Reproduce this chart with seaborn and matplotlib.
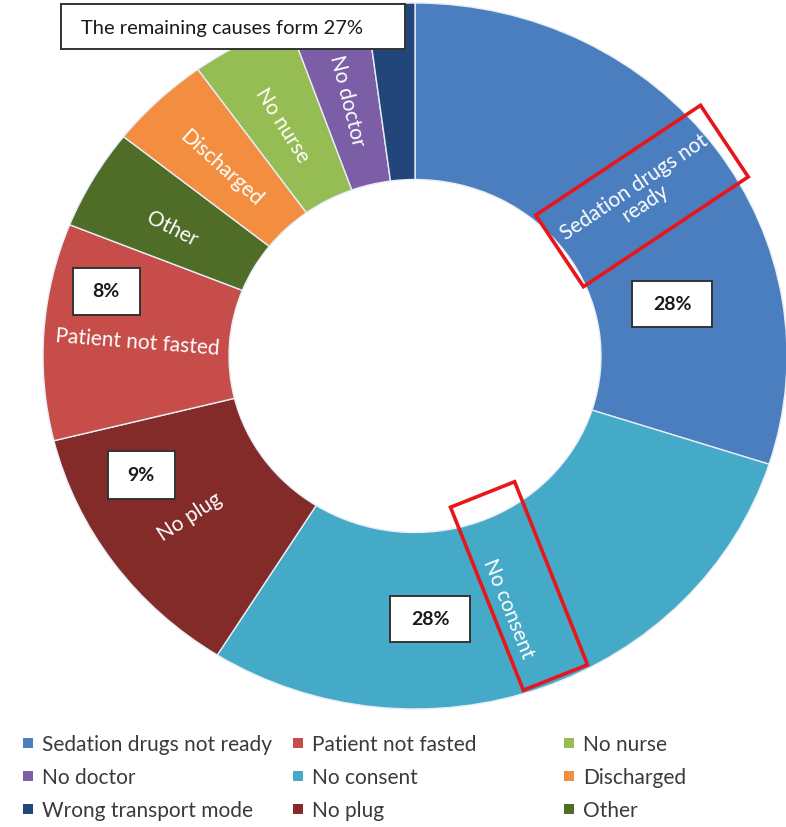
import matplotlib
matplotlib.use("Agg")
import matplotlib.pyplot as plt
import seaborn as sns
from matplotlib.patches import Rectangle
from matplotlib.lines import Line2D

# ---- data (clockwise from 12 o'clock) ----
categories = ["Sedation drugs not ready", "No consent", "No plug", "Patient not fasted",
              "Other", "Discharged", "No nurse", "No doctor", "Wrong transport mode"]
values = [29.9, 28.9, 12.2, 9.9, 4.6, 4.4, 4.4, 3.4, 2.1]
colors = ["#4a7ebf", "#45a9c8", "#822b29", "#c64d49", "#4f6d27",
          "#f38e41", "#96bd54", "#7b5ea5", "#22467a"]
pct_labels = ["28%", "28%", "9%", "8%"]
note_text = "The remaining causes form 27%"
legend_columns = [["Sedation drugs not ready", "No doctor", "Wrong transport mode"],
                  ["Patient not fasted", "No consent", "No plug"],
                  ["No nurse", "Discharged", "Other"]]

sns.set_theme(style="white")
plt.rcParams["font.family"] = ["Lato", "DejaVu Sans"]

W, H = 786, 828
fig = plt.figure(figsize=(W / 100, H / 100), dpi=100)

# donut axes (slightly elliptical, as in the reference)
cx, cy, rx, ry = 415, 357, 372, 353
ax = fig.add_axes([(cx - rx) / W, 1 - (cy + ry) / H, 2 * rx / W, 2 * ry / H])
wedges, _ = ax.pie(values, colors=colors, startangle=90, counterclock=False,
                   wedgeprops=dict(width=0.5, edgecolor="#e8eef5", linewidth=1.0))
ax.set_aspect("auto")
ax.set_xlim(-1, 1)
ax.set_ylim(-1, 1)
ax.axis("off")

inch = fig.dpi_scale_trans


def P(x, y):
    return x / 100, (H - y) / 100


# wedge labels (white, rotated)
wedge_text = [
    ("Sedation drugs not\nready", 640, 195, 34),
    ("No consent", 508, 609, -68),
    ("No plug", 190, 517, 33),
    ("Patient not fasted", 137, 342, -4.5),
    ("Other", 172, 229, -27),
    ("Discharged", 221, 168, -42),
    ("No nurse", 282, 125, -58),
    ("No doctor", 347, 101, -76),
]
for txt, x, y, rot in wedge_text:
    fig.text(*P(x, y), txt, transform=inch, color="white", fontsize=15,
             rotation=rot, rotation_mode="anchor", ha="center", va="center",
             linespacing=0.95)

# red highlight boxes
for (x, y, w, h, ang) in [(642, 197, 198, 86, 33.7), (519, 587, 197, 69, -68.3)]:
    fig.patches.append(Rectangle(P(x - w / 2, y + h / 2), w / 100, h / 100, angle=ang,
                                 rotation_point="center", transform=inch, fill=False,
                                 edgecolor="#e8161b", linewidth=2.6))

# percentage boxes
for lab, (x, y, w, h) in zip(pct_labels, [(672, 305, 80, 46), (430, 620, 80, 46),
                                          (141, 476, 67, 48), (106, 292, 67, 47)]):
    fig.patches.append(Rectangle(P(x - w / 2, y + h / 2), w / 100, h / 100,
                                 transform=inch, facecolor="white",
                                 edgecolor="#333333", linewidth=1.4))
    fig.text(*P(x, y), lab, transform=inch, fontsize=14, fontweight="bold",
             color="#1a1a1a", ha="center", va="center")

# note box at top
fig.patches.append(Rectangle(P(61, 50), 344 / 100, 45 / 100, transform=inch,
                             facecolor="white", edgecolor="#333333", linewidth=1.4))
fig.text(*P(222, 29), note_text, transform=inch, fontsize=14.5, color="#1a1a1a",
         ha="center", va="center")

# legend: three columns
col_color = dict(zip(categories, colors))
for col, xpos in zip(legend_columns, [21, 291, 562]):
    handles = [Line2D([], [], marker="s", linestyle="none", markersize=7,
                      markerfacecolor=col_color[c], markeredgewidth=0) for c in col]
    fig.legend(handles, col, loc="upper left", bbox_to_anchor=P(xpos, 735),
               bbox_transform=inch, frameon=False, fontsize=15, handlelength=0.7,
               handletextpad=0.3, labelspacing=0.62, borderpad=0, borderaxespad=0,
               labelcolor="#3a3a3a")

fig.savefig("out.png", dpi=100)
